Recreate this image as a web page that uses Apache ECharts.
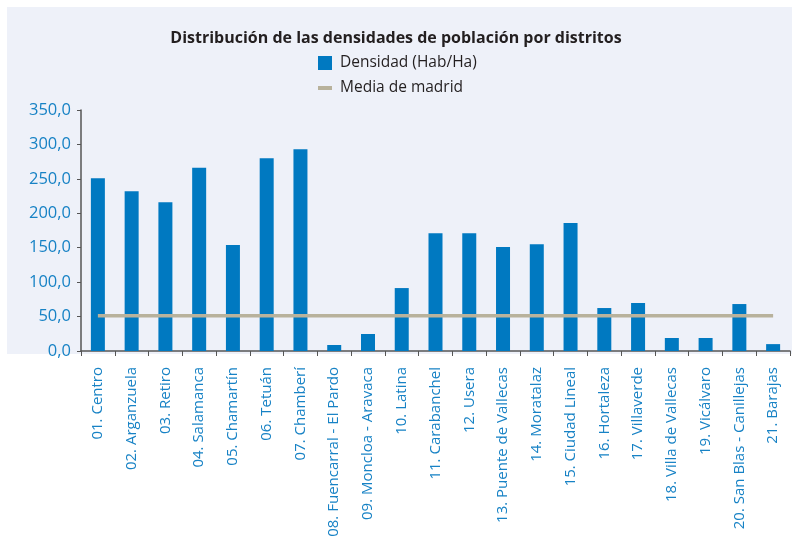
<!DOCTYPE html>
<html>
<head>
<meta charset="utf-8">
<script src="https://cdn.jsdelivr.net/npm/echarts@6/dist/echarts.min.js"></script>
<style>
  html, body { margin: 0; padding: 0; background: #fff; }
  #chart { width: 792px; height: 542px; }
</style>
</head>
<body>
<div id="chart"></div>
<script>
// distritos de Madrid
const distritos = ['01. Centro', '02. Arganzuela', '03. Retiro', '04. Salamanca', '05. Chamartín',
  '06. Tetuán', '07. Chamberí', '08. Fuencarral - El Pardo', '09. Moncloa - Aravaca', '10. Latina',
  '11. Carabanchel', '12. Usera', '13. Puente de Vallecas', '14. Moratalaz', '15. Ciudad Lineal',
  '16. Hortaleza', '17. Villaverde', '18. Villa de Vallecas', '19. Vicálvaro',
  '20. San Blas - Canillejas', '21. Barajas']
const densidad = [251, 232, 216, 266, 154, 280, 293, 8.7, 24.7, 91.4, 171, 171, 151, 155, 186,
  62.4, 69.7, 18.9, 18.9, 68.2, 10]
const mediaMadrid = distritos.map(() => 51.2)
const yTicks = [0, 50, 100, 150, 200, 250, 300, 350]

const font = '"Open Sans", sans-serif'
const azul = '#0079c1'
const textoAzul = '#1782c5'

let chart = echarts.init(document.getElementById('chart'))
let option = {
  backgroundColor: '#ffffff',
  animation: false,
  graphic: [{
    type: 'rect', z: -10,
    shape: { x: 7, y: 7, width: 785, height: 347 },
    style: { fill: '#eef1f9' }
  }],
  title: {
    text: 'Distribución de las densidades de población por distritos',
    left: 'center', top: 25,
    textStyle: { fontFamily: font, fontSize: 16, fontWeight: 'bold', color: '#231f20' }
  },
  legend: {
    orient: 'vertical',
    left: 313, top: 50,
    itemGap: 9,
    itemWidth: 14, itemHeight: 14,
    textStyle: { fontFamily: font, fontSize: 15.5, color: '#231f20', padding: [0, 0, 0, 3] },
    data: [
      { name: 'Densidad (Hab/Ha)', icon: 'rect' },
      { name: 'Media de madrid', icon: 'path://M0,5 L14,5 L14,9 L0,9 Z' }
    ]
  },
  grid: { left: 81, right: 2, top: 110, bottom: 191, outerBoundsMode: 'none', containLabel: false },
  xAxis: {
    type: 'category',
    data: distritos,
    axisLine: { lineStyle: { color: '#555', width: 1.5 } },
    axisTick: { show: true, length: 5, alignWithLabel: false, lineStyle: { color: '#555' } },
    axisLabel: {
      interval: 0, rotate: 90, margin: 16,
      fontFamily: font, fontSize: 15, color: textoAzul
    }
  },
  yAxis: {
    type: 'value',
    min: 0, max: 350, interval: 50,
    axisLine: { show: true, lineStyle: { color: '#555', width: 1.5 } },
    axisTick: { show: true, length: 4, lineStyle: { color: '#555' } },
    splitLine: { show: false },
    axisLabel: {
      margin: 10,
      fontFamily: font, fontSize: 16.5, color: textoAzul,
      formatter: v => yTicks.includes(v) ? v.toFixed(1).replace('.', ',') : ''
    }
  },
  series: [
    {
      name: 'Densidad (Hab/Ha)',
      type: 'bar',
      barWidth: 14,
      itemStyle: { color: azul },
      data: densidad
    },
    {
      name: 'Media de madrid',
      type: 'line',
      symbol: 'none',
      lineStyle: { color: '#b8b29c', width: 3.5 },
      itemStyle: { color: '#b8b29c' },
      data: mediaMadrid
    }
  ]
}
chart.setOption(option)
</script>
</body>
</html>
